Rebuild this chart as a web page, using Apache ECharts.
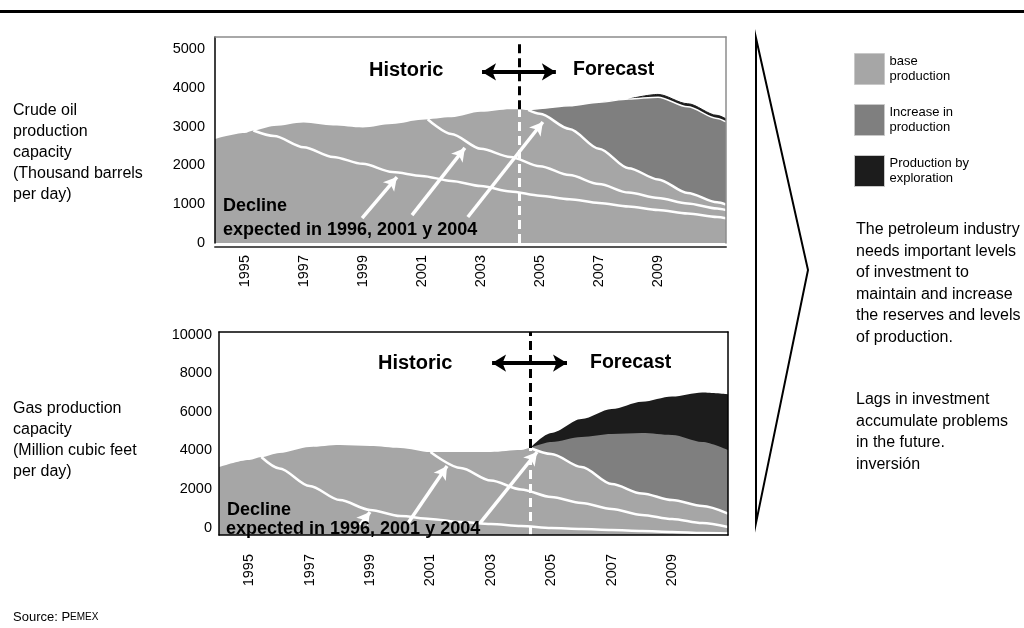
<!DOCTYPE html>
<html>
<head>
<meta charset="utf-8">
<script src="https://cdn.jsdelivr.net/npm/echarts@6/dist/echarts.min.js"></script>
<style>
  html, body { margin: 0; padding: 0; background: #fff; }
  #chart { width: 1024px; height: 628px; }
</style>
</head>
<body>
<div id="chart"></div>
<script>
// ---------- Crude oil production capacity (thousand barrels per day) ----------
const oilYears = [1994, 1995, 1995.3, 1996, 1997, 1998, 1999, 2000, 2001, 2002, 2003, 2004, 2004.3, 2004.6, 2005, 2006, 2007, 2008, 2009, 2010, 2011, 2011.3];
const oilBase = [2680, 2835, 2900, 3015, 3105, 3030, 2980, 3070, 3180, 3240, 3380, 3450, 3450, 3430, 3330, 2940, 2430, 1930, 1640, 1290, 1050, 990];
const oilIncrease = [null, null, null, null, null, null, null, null, null, null, null, null, null, 0, 140, 600, 1200, 1780, 2120, 2220, 2160, 2130];
const oilExploration = [null, null, null, null, null, null, null, null, null, null, null, null, null, null, null, null, null, 0, 70, 80, 80, 80];

// decline of the fields already producing in 1996 and 2001
const oilDecline1996Years = [1995.3, 1996, 1997, 1998, 1999, 2000, 2001, 2002, 2003, 2004, 2005, 2006, 2007, 2008, 2009, 2010, 2011, 2011.3];
const oilDecline1996 = [2900, 2760, 2470, 2220, 2040, 1830, 1730, 1600, 1470, 1330, 1220, 1130, 1030, 940, 850, 760, 670, 640];
const oilDecline2001Years = [2001.2, 2002, 2003, 2004, 2005, 2006, 2007, 2008, 2009, 2010, 2011, 2011.3];
const oilDecline2001 = [3190, 2810, 2430, 2220, 1980, 1750, 1520, 1300, 1160, 1020, 890, 850];
const oilDecline2004From = 2004.6;   // the 2004 decline is the top of the forecast base production

// ---------- Gas production capacity (million cubic feet per day) ----------
const gasYears = [1994, 1995, 1995.4, 1996, 1997, 1998, 1999, 2000, 2001, 2002, 2003, 2004, 2004.3, 2005, 2006, 2007, 2008, 2009, 2010, 2010.85];
const gasBase = [3520, 3890, 4040, 4250, 4560, 4660, 4610, 4510, 4300, 4300, 4300, 4400, 4510, 4200, 3520, 2640, 2150, 1810, 1500, 1110];
const gasIncrease = [null, null, null, null, null, null, null, null, null, null, null, null, 0, 620, 1560, 2590, 3130, 3370, 3320, 3290];
const gasExploration = [null, null, null, null, null, null, null, null, null, null, null, null, 0, 470, 930, 1300, 1630, 2000, 2570, 2900];

const gasDecline1996Years = [1995.4, 1996, 1997, 1998, 1999, 2000, 2001, 2002, 2003, 2004, 2005, 2006, 2007, 2008, 2009, 2010, 2010.85];
const gasDecline1996 = [4040, 3450, 2540, 1810, 1300, 980, 830, 670, 570, 470, 360, 310, 260, 210, 160, 100, 80];
const gasDecline2001Years = [2001, 2002, 2003, 2004, 2005, 2006, 2007, 2008, 2009, 2010, 2010.85];
const gasDecline2001 = [4300, 3470, 2820, 2360, 1970, 1660, 1350, 1040, 830, 620, 410];
const gasDecline2004From = 2004.3;

// ---------- axes and annotations ----------
const forecastStart = 2004.3;
const oilTicks = [0, 1000, 2000, 3000, 4000, 5000];
const gasTicks = [0, 2000, 4000, 6000, 8000, 10000];
const yearLabels = [1995, 1997, 1999, 2001, 2003, 2005, 2007, 2009];
const legendNames = ['base production', 'Increase in production', 'Production by exploration'];
const legendLines = {
  'base production': 'base\nproduction',
  'Increase in production': 'Increase in\nproduction',
  'Production by exploration': 'Production by\nexploration'
};

// annotation arrows [x1, y1, x2, y2] in data units
const oilPointers = [[1998.98, 640, 2000.16, 1700], [2000.67, 720, 2002.46, 2450], [2002.56, 670, 2005.10, 3120]];
const gasPointers = [[1998.67, 520, 1999.0, 1190], [2000.26, 620, 2001.55, 3570], [2002.64, 620, 2004.53, 4300]];
const oilPeriodArrow = [2003.04, 2005.54, 4410];
const gasPeriodArrow = [2003.04, 2005.52, 8910];
const oilDividerTop = 5160;
const gasDividerTop = 10520;

const FONT = '"Liberation Sans", Arial, Helvetica, sans-serif';
const C_BASE = '#a6a6a6';
const C_INC = '#7f7f7f';
const C_EXP = '#1c1c1c';

// axis indices: oil uses x/y axis 0, gas uses x/y axis 2 (1 and 3 only draw the box edges)
const OIL = 0;
const GAS = 2;

function pairs(xs, ys) {
  return xs.map((x, i) => [x, ys[i] == null ? null : ys[i]]);
}
// cumulative top of a layer laid on top of another one
function addLayer(below, layer) {
  return below.map((v, i) => (layer[i] == null || v == null ? null : v + layer[i]));
}
function fromYear(xs, ys, start) {
  const out = [];
  xs.forEach((x, i) => { if (x >= start) out.push([x, ys[i]]); });
  return out;
}
function yearLabel(v) {
  return yearLabels.indexOf(v) >= 0 ? String(v) : '';
}
function pointerLines(list) {
  return list.map(p => [{ coord: [p[0], p[1]] }, { coord: [p[2], p[3]] }]);
}

const oilIncreaseTop = addLayer(oilBase, oilIncrease);
const oilExplorationTop = addLayer(oilIncreaseTop, oilExploration);
const gasIncreaseTop = addLayer(gasBase, gasIncrease);
const gasExplorationTop = addLayer(gasIncreaseTop, gasExploration);

const chart = echarts.init(document.getElementById('chart'), null, { renderer: 'canvas' });

function xBottom(grid, max, margin, lineColor, lineWidth, offset) {
  return {
    gridIndex: grid, type: 'value', min: 1994, max: max, interval: 1,
    position: 'bottom', offset: offset, z: 10,
    axisLine: { show: true, onZero: false, lineStyle: { color: lineColor, width: lineWidth } },
    axisTick: { show: false }, splitLine: { show: false },
    axisLabel: { rotate: 90, margin: margin, fontSize: 14.5, color: '#000', fontFamily: FONT, formatter: yearLabel }
  };
}
function xTop(grid, max, lineColor, lineWidth) {
  return {
    gridIndex: grid, type: 'value', min: 1994, max: max, position: 'top', z: 10,
    axisLine: { show: true, onZero: false, lineStyle: { color: lineColor, width: lineWidth } },
    axisTick: { show: false }, splitLine: { show: false }, axisLabel: { show: false }
  };
}
function yLeft(grid, max, interval, ticks, margin, vAlign) {
  return {
    gridIndex: grid, type: 'value', min: 0, max: max, interval: interval, z: 10,
    axisLine: { show: true, onZero: false, lineStyle: { color: '#000', width: 1.5 } },
    axisTick: { show: false }, splitLine: { show: false },
    axisLabel: {
      margin: margin, fontSize: 14.5, color: '#000', fontFamily: FONT, verticalAlign: vAlign,
      formatter: v => (ticks.indexOf(v) >= 0 ? String(v) : '')
    }
  };
}
function yRight(grid, max, lineColor, lineWidth) {
  return {
    gridIndex: grid, type: 'value', min: 0, max: max, position: 'right', z: 10,
    axisLine: { show: true, onZero: false, lineStyle: { color: lineColor, width: lineWidth } },
    axisTick: { show: false }, splitLine: { show: false }, axisLabel: { show: false }
  };
}

function areaSeries(name, axis, xs, ys, color, line) {
  return {
    name: name, type: 'line', xAxisIndex: axis, yAxisIndex: axis,
    data: pairs(xs, ys), symbol: 'none', smooth: 0.3, smoothMonotone: 'x', z: 2,
    itemStyle: { color: color },
    lineStyle: line || { width: 0 },
    areaStyle: { color: color, opacity: 1 },
    emphasis: { disabled: true }, silent: true
  };
}
function whiteLine(axis, data, markLine) {
  const s = {
    type: 'line', xAxisIndex: axis, yAxisIndex: axis, data: data,
    symbol: 'none', smooth: 0.3, smoothMonotone: 'x', z: 4,
    lineStyle: { color: '#fff', width: 2.5 },
    emphasis: { disabled: true }, silent: true
  };
  if (markLine) s.markLine = markLine;
  return s;
}
function arrowMarks(list, color, width, both, size) {
  return {
    silent: true, animation: false,
    symbol: both ? ['arrow', 'arrow'] : ['none', 'arrow'],
    symbolSize: size,
    label: { show: false }, emphasis: { disabled: true },
    lineStyle: { color: color, width: width, type: 'solid' },
    data: list
  };
}
function dividerMarks(top, split) {
  const white = { color: '#fff', width: 3, type: [9, 5] };
  const black = { color: '#000', width: 3, type: [9, 5] };
  return {
    silent: true, animation: false, symbol: ['none', 'none'],
    label: { show: false }, emphasis: { disabled: true },
    lineStyle: { width: 3 },
    data: [
      [{ coord: [forecastStart, 0], lineStyle: white }, { coord: [forecastStart, split], lineStyle: white }],
      [{ coord: [forecastStart, split], lineStyle: black }, { coord: [forecastStart, top], lineStyle: black }]
    ]
  };
}

const oilSplit = oilBase[oilYears.indexOf(forecastStart)];
const gasSplit = gasBase[gasYears.indexOf(forecastStart)];

function txt(x, y, text, font, extra) {
  return {
    type: 'text', x: x, y: y, z: 100, silent: true,
    style: Object.assign({ text: text, font: font, fill: '#000', verticalAlign: 'middle', align: 'left' }, extra || {})
  };
}

const option = {
  animation: false,
  backgroundColor: '#fff',
  textStyle: { fontFamily: FONT },
  grid: [
    { left: 215, top: 37, width: 511, height: 206 },
    { left: 219, top: 332, width: 509, height: 203 }
  ],
  xAxis: [
    xBottom(0, 2011.3, 8, '#555', 2, 4),
    xTop(0, 2011.3, '#8c8c8c', 1.5),
    xBottom(1, 2010.85, 19, '#000', 1.5, 0),
    xTop(1, 2010.85, '#000', 1.5)
  ],
  yAxis: [
    yLeft(0, 5310, 1000, oilTicks, 10, 'middle'),
    yRight(0, 5310, '#8c8c8c', 1.5),
    yLeft(1, 10520, 2000, gasTicks, 7, 'bottom'),
    yRight(1, 10520, '#000', 1.5)
  ],
  legend: {
    data: legendNames, orient: 'vertical', left: 854, top: 53, padding: 0,
    itemWidth: 30, itemHeight: 31, itemGap: 19, icon: 'rect', selectedMode: false,
    itemStyle: { borderColor: '#c8c8c8', borderWidth: 1 },
    textStyle: { fontSize: 13, lineHeight: 15, color: '#000', fontFamily: FONT },
    formatter: n => legendLines[n]
  },
  series: [
    // crude oil: layers drawn back to front (each area reaches down to zero)
    areaSeries('Production by exploration', OIL, oilYears, oilExplorationTop, C_EXP, { color: C_EXP, width: 1 }),
    areaSeries('Increase in production', OIL, oilYears, oilIncreaseTop, C_INC, { color: '#fff', width: 1.5 }),
    areaSeries('base production', OIL, oilYears, oilBase, C_BASE),
    whiteLine(OIL, pairs(oilDecline1996Years, oilDecline1996), arrowMarks(pointerLines(oilPointers), '#fff', 3.5, false, [11, 13])),
    whiteLine(OIL, pairs(oilDecline2001Years, oilDecline2001), dividerMarks(oilDividerTop, oilSplit)),
    whiteLine(OIL, fromYear(oilYears, oilBase, oilDecline2004From),
      arrowMarks([[{ coord: [oilPeriodArrow[0], oilPeriodArrow[2]] }, { coord: [oilPeriodArrow[1], oilPeriodArrow[2]] }]], '#000', 4, true, [13, 14])),
    // gas
    areaSeries('Production by exploration', GAS, gasYears, gasExplorationTop, C_EXP),
    areaSeries('Increase in production', GAS, gasYears, gasIncreaseTop, C_INC),
    areaSeries('base production', GAS, gasYears, gasBase, C_BASE),
    whiteLine(GAS, pairs(gasDecline1996Years, gasDecline1996), arrowMarks(pointerLines(gasPointers), '#fff', 3.5, false, [11, 13])),
    whiteLine(GAS, pairs(gasDecline2001Years, gasDecline2001), dividerMarks(gasDividerTop, gasSplit)),
    whiteLine(GAS, fromYear(gasYears, gasBase, gasDecline2004From),
      arrowMarks([[{ coord: [gasPeriodArrow[0], gasPeriodArrow[2]] }, { coord: [gasPeriodArrow[1], gasPeriodArrow[2]] }]], '#000', 4, true, [13, 14]))
  ],
  graphic: [
    { type: 'rect', z: 100, silent: true, shape: { x: 0, y: 10, width: 1024, height: 3 }, style: { fill: '#000' } },
    { type: 'polygon', z: 100, silent: true, shape: { points: [[756, 38], [808, 270], [756, 523]] }, style: { fill: 'none', stroke: '#000', lineWidth: 2 } },
    txt(13, 100.5, 'Crude oil\nproduction\ncapacity\n(Thousand barrels\nper day)', '16px ' + FONT, { verticalAlign: 'top', lineHeight: 21 }),
    txt(13, 398.5, 'Gas production\ncapacity\n(Million cubic feet\nper day)', '16px ' + FONT, { verticalAlign: 'top', lineHeight: 21 }),
    txt(369, 70, 'Historic', 'bold 20px ' + FONT),
    txt(573, 70, 'Forecast', 'bold 19.5px ' + FONT),
    txt(378, 363, 'Historic', 'bold 20px ' + FONT),
    txt(590, 363, 'Forecast', 'bold 19.5px ' + FONT),
    txt(223, 206, 'Decline', 'bold 18px ' + FONT),
    txt(223, 230, 'expected in 1996, 2001 y 2004', 'bold 18px ' + FONT),
    txt(227, 510, 'Decline', 'bold 18px ' + FONT),
    txt(226, 529, 'expected in 1996, 2001 y 2004', 'bold 18px ' + FONT),
    txt(856, 219.25, 'The petroleum industry\nneeds important levels\nof investment to\nmaintain and increase\nthe reserves and levels\nof production.', '16px ' + FONT, { verticalAlign: 'top', lineHeight: 21.5 }),
    txt(856, 389.25, 'Lags in investment\naccumulate problems\nin the future.\ninversión', '16px ' + FONT, { verticalAlign: 'top', lineHeight: 21.5 }),
    {
      type: 'text', x: 13, y: 617, z: 100, silent: true,
      style: {
        text: 'Source: P{s|EMEX}', font: '13px ' + FONT, fill: '#000', verticalAlign: 'middle',
        rich: { s: { fontSize: 10, fontFamily: FONT, fill: '#000' } }
      }
    }
  ]
};

chart.setOption(option);
</script>
</body>
</html>
